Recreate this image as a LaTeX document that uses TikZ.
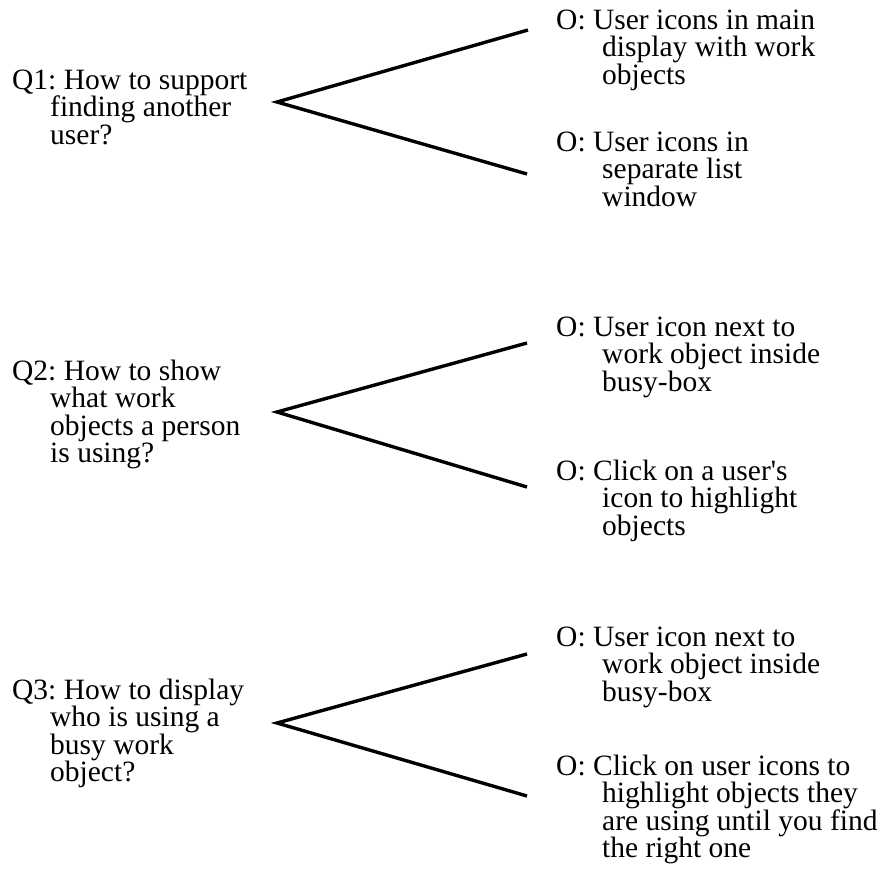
\documentclass[tikz,border=0pt]{standalone}
\usepackage{fontspec}
\setmainfont{Liberation Serif}
\newcommand\txl[2][0pt]{\hbox{\hspace*{#1}#2}}
\begin{document}
\frenchspacing
\begin{tikzpicture}[x=1pt,y=-1pt,
  txt/.style={anchor=base west,inner sep=0pt,font=\fontsize{29.5}{27.5}\selectfont\frenchspacing},
  branch/.style={line width=3.4pt,line join=miter}]
\useasboundingbox (0,0) rectangle (881,870);
% Group 1
\node[txt] (q1) at (12,89) {\vtop{\txl{Q1: How to support}\txl[38pt]{finding another}\txl[38pt]{user?}}};
\node[txt] (o1) at (556,29) {\vtop{\txl{O: User icons in main}\txl[46pt]{display with work}\txl[46pt]{objects}}};
\node[txt] (o2) at (556,151) {\vtop{\txl{O: User icons in}\txl[46pt]{separate list}\txl[46pt]{window}}};
\coordinate (a1) at (277,102);
\coordinate (e1) at (528,30);
\coordinate (e2) at (527,174);
\draw[branch] (e1) -- (a1) -- (e2);
% Group 2
\node[txt] (q2) at (12,380) {\vtop{\txl{Q2: How to show}\txl[38pt]{what work}\txl[38pt]{objects a person}\txl[38pt]{is using?}}};
\node[txt] (o3) at (556,336) {\vtop{\txl{O: User icon next to}\txl[46pt]{work object inside}\txl[46pt]{busy-box}}};
\node[txt] (o4) at (556,480) {\vtop{\txl{O: Click on a user\textquotesingle s}\txl[46pt]{icon to highlight}\txl[46pt]{objects}}};
\coordinate (a2) at (277,412);
\coordinate (e3) at (527,343);
\coordinate (e4) at (527,487);
\draw[branch] (e3) -- (a2) -- (e4);
% Group 3
\node[txt] (q3) at (12,699) {\vtop{\txl{Q3: How to display}\txl[38pt]{who is using a}\txl[38pt]{busy work}\txl[38pt]{object?}}};
\node[txt] (o5) at (556,646) {\vtop{\txl{O: User icon next to}\txl[46pt]{work object inside}\txl[46pt]{busy-box}}};
\node[txt] (o6) at (556,775) {\vtop{\txl{O: Click on user icons to}\txl[46pt]{highlight objects they}\txl[46pt]{are using until you find}\txl[46pt]{the right one}}};
\coordinate (a3) at (277,723);
\coordinate (e5) at (527,654);
\coordinate (e6) at (527,796);
\draw[branch] (e5) -- (a3) -- (e6);
\end{tikzpicture}
\end{document}
